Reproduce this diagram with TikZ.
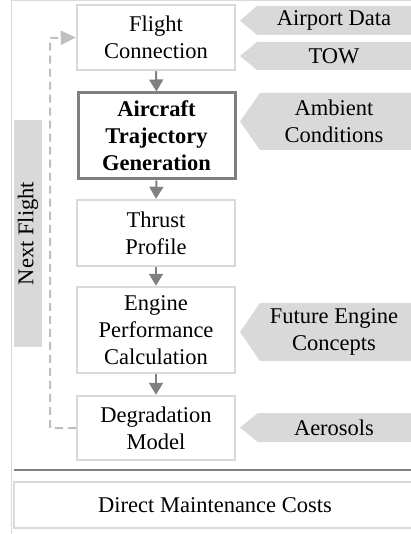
\documentclass[tikz,border=0pt]{standalone}
\usepackage{fontspec}
\setmainfont{Liberation Serif}
\usetikzlibrary{arrows.meta}
\definecolor{lightgr}{HTML}{D9D9D9}
\definecolor{darkgr}{HTML}{808080}
\definecolor{dashgr}{HTML}{BFBFBF}
\begin{document}
\begin{tikzpicture}[x=1pt,y=-1pt,
  every node/.style={font=\fontsize{22.5}{27}\selectfont, align=center, inner sep=0pt},
  stepbox/.style={draw=lightgr, line width=2.5pt, fill=white, minimum width=158pt},
  mainbox/.style={draw=darkgr, line width=3pt, fill=white, minimum width=157pt},
  flowarrow/.style={draw=darkgr, line width=2pt, -{Triangle[width=14pt,length=12pt]}},
  tagfill/.style={fill=lightgr},
  frameline/.style={draw=lightgr, line width=1pt}
]
\useasboundingbox (0,0) rectangle (411,534);
\fill[white] (0,0) rectangle (411,534);

% frame
\draw[frameline] (411,1) -- (11,1) -- (11,534);

% main boxes
\node[stepbox, minimum height=65pt] (fc) at (156,37.5) {Flight\\Connection};
\node[mainbox, minimum height=86pt] (atg) at (156.5,136) {\bfseries Aircraft\\\bfseries Trajectory\\\bfseries Generation};
\node[stepbox, minimum height=66pt] (tp) at (156,233) {Thrust\\Profile};
\node[stepbox, minimum height=86pt] (epc) at (156,330) {Engine\\Performance\\Calculation};
\node[stepbox, minimum height=64pt] (dm) at (156,428) {Degradation\\Model};

\draw[flowarrow] (fc.south) -- (atg.north);
\draw[flowarrow] (atg.south) -- (tp.north);
\draw[flowarrow] (tp.south) -- (epc.north);
\draw[flowarrow] (epc.south) -- (dm.north);

% feedback loop
\coordinate (c1) at (50,428);
\coordinate (c2) at (50,38);
\draw[dashgr, line width=2pt, dash pattern=on 8pt off 5pt, -{Triangle[width=14pt,length=15pt]}]
  (dm.west) -- (c1) -- (c2) -- (fc.west);

% next flight tag
\node[fill=lightgr, minimum width=28pt, minimum height=227pt] (nf) at (28,233.5) {};
\node[rotate=90] (nft) at (nf.center) {Next Flight};

% input tags
\fill[tagfill] (411,6) -- (257,6) -- (240,20.5) -- (257,35) -- (411,35) -- cycle;
\node (ad) at (334,20.5) {Airport Data};
\fill[tagfill] (411,42) -- (257,42) -- (240,56) -- (257,70) -- (411,70) -- cycle;
\node (tow) at (334,56) {TOW};
\fill[tagfill] (411,93) -- (260,93) -- (240,121.5) -- (260,150) -- (411,150) -- cycle;
\node (amb) at (334,121.5) {Ambient\\Conditions};
\fill[tagfill] (411,303) -- (260,303) -- (240,332) -- (260,361) -- (411,361) -- cycle;
\node (fec) at (334,332) {Future Engine\\Concepts};
\fill[tagfill] (411,413) -- (258,413) -- (240,427.5) -- (258,442) -- (411,442) -- cycle;
\node (aer) at (334,427.5) {Aerosols};

% separator
\draw[darkgr, line width=2.5pt] (14,470) -- (411,470);

% DMC box
\draw[lightgr, line width=2.5pt] (411,482) -- (14,482) -- (14,528) -- (411,528);
\node (dmc) at (215,505) {Direct Maintenance Costs};
\end{tikzpicture}
\end{document}
